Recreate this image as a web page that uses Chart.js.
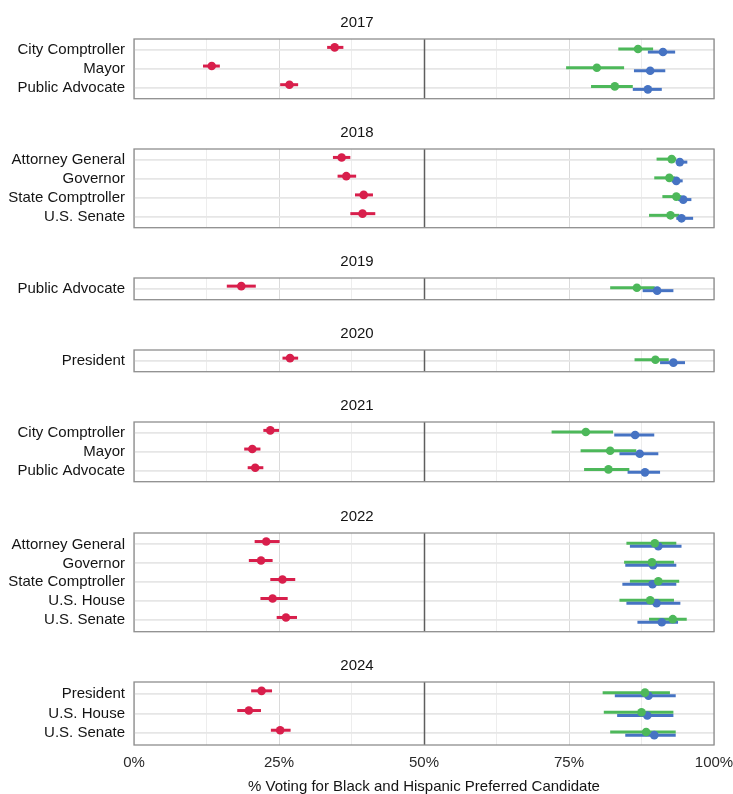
<!DOCTYPE html>
<html>
<head>
<meta charset="utf-8">
<script src="https://cdn.jsdelivr.net/npm/chart.js@4.4.0/dist/chart.umd.min.js"></script>
<style>
  html, body { margin: 0; padding: 0; background: #fff; overflow: hidden; width: 733px; height: 794px; }
  #wrap { position: relative; width: 733px; height: 794px; }
  #wrap canvas { position: absolute; left: 0; }
</style>
</head>
<body>
<div id="wrap"></div>
<script>
// ---------- data ----------
// Each estimate row is [point estimate, lower bound, upper bound], in percent.
const years = ['2017', '2018', '2019', '2020', '2021', '2022', '2024'];

const offices2017 = ['City Comptroller', 'Mayor', 'Public Advocate'];
const white2017    = [[34.6, 33.3, 36.1], [13.4, 11.9, 14.8], [26.8, 25.2, 28.3]];
const hispanic2017 = [[86.9, 83.5, 89.5], [79.8, 74.5, 84.5], [82.9, 78.8, 86.0]];
const black2017    = [[91.2, 88.6, 93.3], [89.0, 86.2, 91.6], [88.6, 86.0, 91.0]];

const offices2018 = ['Attorney General', 'Governor', 'State Comptroller', 'U.S. Senate'];
const white2018    = [[35.8, 34.3, 37.3], [36.6, 35.1, 38.3], [39.6, 38.1, 41.2], [39.4, 37.3, 41.6]];
const hispanic2018 = [[92.7, 90.1, 93.5], [92.3, 89.7, 93.3], [93.5, 91.1, 94.4], [92.5, 88.8, 94.0]];
const black2018    = [[94.1, 93.5, 95.4], [93.5, 92.7, 94.6], [94.7, 93.8, 96.1], [94.4, 93.5, 96.4]];

const offices2019 = ['Public Advocate'];
const white2019    = [[18.5, 16.0, 21.0]];
const hispanic2019 = [[86.7, 82.1, 89.8]];
const black2019    = [[90.2, 87.7, 93.0]];

const offices2020 = ['President'];
const white2020    = [[26.9, 25.6, 28.3]];
const hispanic2020 = [[89.9, 86.3, 92.2]];
const black2020    = [[93.0, 90.7, 95.0]];

const offices2021 = ['City Comptroller', 'Mayor', 'Public Advocate'];
const white2021    = [[23.5, 22.3, 25.0], [20.4, 19.0, 21.8], [20.9, 19.6, 22.3]];
const hispanic2021 = [[77.9, 72.0, 82.6], [82.1, 77.0, 86.6], [81.8, 77.6, 85.4]];
const black2021    = [[86.4, 82.8, 89.7], [87.2, 83.7, 90.4], [88.1, 85.1, 90.7]];

const offices2022 = ['Attorney General', 'Governor', 'State Comptroller', 'U.S. House', 'U.S. Senate'];
const white2022    = [[22.8, 20.8, 25.1], [21.9, 19.8, 23.9], [25.6, 23.5, 27.8], [23.9, 21.8, 26.5], [26.2, 24.6, 28.1]];
const hispanic2022 = [[89.8, 84.9, 93.5], [89.3, 84.5, 93.1], [90.4, 85.5, 94.0], [89.0, 83.7, 93.1], [92.9, 88.8, 95.3]];
const black2022    = [[90.4, 85.5, 94.4], [89.5, 84.7, 93.5], [89.4, 84.2, 93.5], [90.1, 84.9, 94.2], [91.0, 86.8, 93.8]];

const offices2024 = ['President', 'U.S. House', 'U.S. Senate'];
const white2024    = [[22.0, 20.2, 23.8], [19.8, 17.8, 21.9], [25.2, 23.6, 27.0]];
const hispanic2024 = [[88.1, 80.8, 92.4], [87.5, 81.0, 93.0], [88.3, 82.1, 93.4]];
const black2024    = [[88.7, 82.9, 93.4], [88.5, 83.3, 93.0], [89.7, 84.7, 93.4]];

const xTickValues = [0, 25, 50, 75, 100];
const majorityLine = 50;
const xAxisTitle = '% Voting for Black and Hispanic Preferred Candidate';

// ---------- panel table built from the arrays above ----------
const panels = [
  { year: years[0], offices: offices2017, white: white2017, hispanic: hispanic2017, black: black2017 },
  { year: years[1], offices: offices2018, white: white2018, hispanic: hispanic2018, black: black2018 },
  { year: years[2], offices: offices2019, white: white2019, hispanic: hispanic2019, black: black2019 },
  { year: years[3], offices: offices2020, white: white2020, hispanic: hispanic2020, black: black2020 },
  { year: years[4], offices: offices2021, white: white2021, hispanic: hispanic2021, black: black2021 },
  { year: years[5], offices: offices2022, white: white2022, hispanic: hispanic2022, black: black2022 },
  { year: years[6], offices: offices2024, white: white2024, hispanic: hispanic2024, black: black2024 }
];

// ---------- styling / layout ----------
const FONT = "'Liberation Sans', Arial, sans-serif";
const FONT_SIZE = 15;
const TEXT = '#141414';
const groups = [
  { key: 'white',    label: 'White',    color: '#d81e4b', dodge: -0.15 },
  { key: 'hispanic', label: 'Hispanic', color: '#4db85a', dodge: -0.06 },
  { key: 'black',    label: 'Black',    color: '#4673c3', dodge: 0.10 }
];
const panelTops = [39, 149, 278, 350, 422, 533, 682];
const TITLE_BOX = 29;       // height reserved above each panel for its year heading
const AXIS_LEFT = 134;      // width of the category label column
const RIGHT_PAD = 19;
const X_AXIS_BLOCK = 52;    // tick labels + axis title under the last panel

// majority reference line, interval bars beneath the points, and the panel frame
const intervalBars = {
  id: 'intervalBars',
  beforeDatasetsDraw(chart) {
    const ctx = chart.ctx;
    const xs = chart.scales.x;
    const a = chart.chartArea;
    ctx.save();
    const xm = Math.round(xs.getPixelForValue(majorityLine)) + 0.5;
    ctx.strokeStyle = '#5e5e5e';
    ctx.lineWidth = 1.5;
    ctx.beginPath();
    ctx.moveTo(xm, a.top);
    ctx.lineTo(xm, a.bottom);
    ctx.stroke();

    ctx.lineWidth = 3;
    ctx.lineCap = 'butt';
    chart.data.datasets.forEach((ds, di) => {
      const meta = chart.getDatasetMeta(di);
      ctx.strokeStyle = ds.backgroundColor;
      ds.data.forEach((d, i) => {
        const y = meta.data[i].y;
        ctx.beginPath();
        ctx.moveTo(xs.getPixelForValue(d.lo), y);
        ctx.lineTo(xs.getPixelForValue(d.hi), y);
        ctx.stroke();
      });
    });
    ctx.restore();
  },
  afterDraw(chart) {
    const a = chart.chartArea;
    const ctx = chart.ctx;
    ctx.save();
    ctx.strokeStyle = '#8e8e8e';
    ctx.lineWidth = 1.3;
    ctx.strokeRect(a.left, a.top, a.right - a.left, a.bottom - a.top);
    ctx.restore();
  }
};

const wrap = document.getElementById('wrap');

panels.forEach((p, pi) => {
  const n = p.offices.length;
  const isLast = pi === panels.length - 1;
  const panelH = Math.round(n * 19.2 + 5.5);
  const bottomBlock = isLast ? X_AXIS_BLOCK : 1;
  const canvas = document.createElement('canvas');
  canvas.width = 733;
  canvas.height = TITLE_BOX + panelH + bottomBlock;
  canvas.style.top = (panelTops[pi] - TITLE_BOX) + 'px';
  wrap.appendChild(canvas);

  const datasets = groups.map(g => ({
    label: g.label,
    data: p[g.key].map((r, i) => ({ x: r[0], y: i + g.dodge, lo: r[1], hi: r[2] })),
    backgroundColor: g.color,
    borderColor: g.color,
    pointRadius: 4.3,
    pointHoverRadius: 4.3,
    pointBorderWidth: 0
  }));

  new Chart(canvas.getContext('2d'), {
    type: 'scatter',
    data: { datasets },
    plugins: [intervalBars],
    options: {
      responsive: false,
      animation: false,
      events: [],
      layout: { padding: { left: 0, right: RIGHT_PAD, top: 0, bottom: 0 } },
      plugins: {
        legend: { display: false },
        tooltip: { enabled: false },
        title: {
          display: true,
          text: p.year,
          color: TEXT,
          font: { family: FONT, size: FONT_SIZE, weight: 'normal', lineHeight: 1 },
          padding: { top: 5, bottom: 9 }
        }
      },
      scales: {
        x: {
          type: 'linear',
          min: 0,
          max: 100,
          afterFit(scale) {
            scale.paddingLeft = 0;
            scale.paddingRight = 0;
            scale.height = bottomBlock;
          },
          ticks: {
            display: isLast,
            stepSize: 12.5,
            autoSkip: false,
            maxRotation: 0,
            padding: 10,
            color: '#2a2a2a',
            font: { family: FONT, size: FONT_SIZE, lineHeight: 1 },
            callback: v => (xTickValues.includes(v) ? v + '%' : '')
          },
          border: { display: false },
          grid: {
            drawTicks: false,
            color: c => {
              const v = c.tick ? c.tick.value : 0;
              return v % 25 === 0 ? '#dadada' : '#ededed';
            },
            lineWidth: 1
          },
          title: {
            display: isLast,
            text: xAxisTitle,
            color: TEXT,
            font: { family: FONT, size: FONT_SIZE, lineHeight: 1 },
            padding: { top: 4, bottom: 3 }
          }
        },
        y: {
          type: 'linear',
          reverse: true,
          min: -0.6,
          max: n - 0.4,
          afterBuildTicks(scale) {
            scale.ticks = p.offices.map((_, i) => ({ value: i }));
          },
          afterFit(scale) {
            scale.width = AXIS_LEFT;
            scale.paddingTop = 0;
            scale.paddingBottom = 0;
          },
          ticks: {
            autoSkip: false,
            padding: 9,
            color: TEXT,
            font: { family: FONT, size: FONT_SIZE, lineHeight: 1 },
            callback: v => p.offices[v]
          },
          border: { display: false },
          grid: { drawTicks: false, color: '#e6e6e6', lineWidth: 1.8 }
        }
      }
    }
  });
});
</script>
</body>
</html>
